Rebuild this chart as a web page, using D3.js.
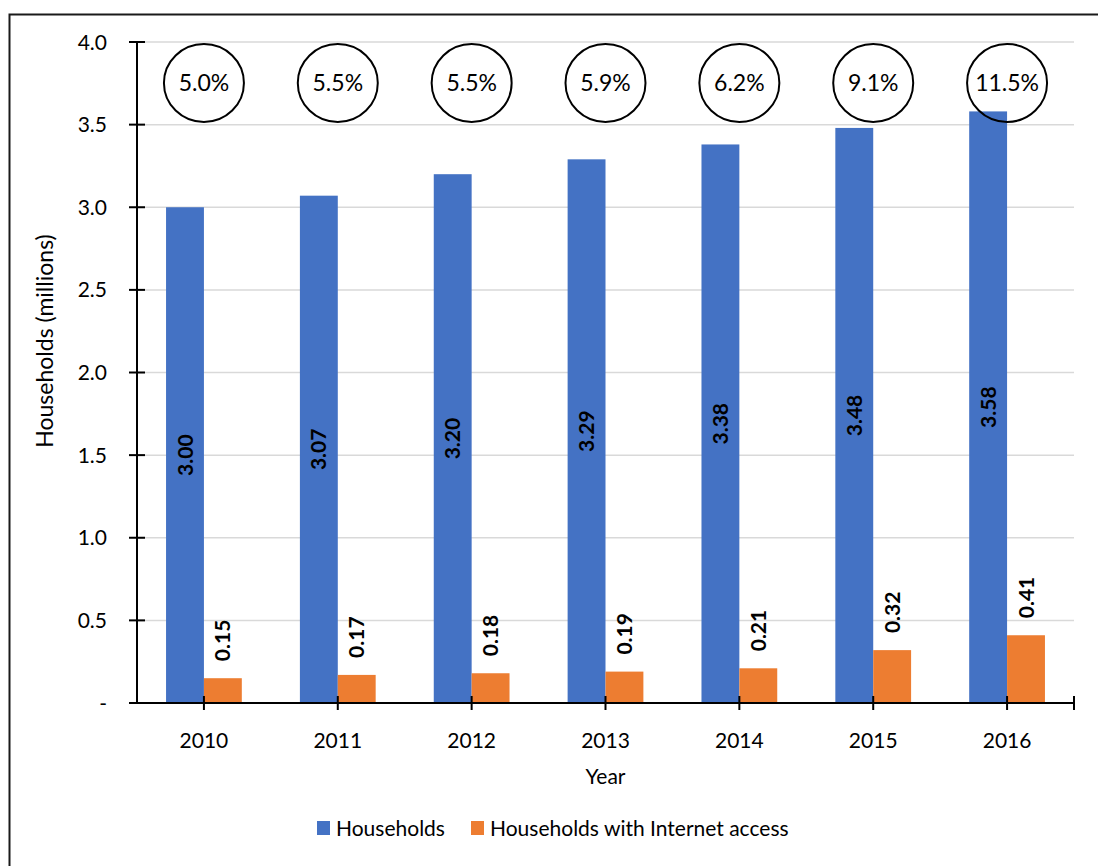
<!DOCTYPE html>
<html>
<head>
<meta charset="utf-8">
<script src="https://cdn.jsdelivr.net/npm/d3@7/dist/d3.min.js"></script>
<style>
  html, body { margin: 0; padding: 0; background: #fff; }
  svg { display: block; font-family: Lato, "Noto Sans", sans-serif; }
</style>
</head>
<body>
<svg id="chart" width="1098" height="866"></svg>
<script>
// Household counts (millions) by year
const years = ["2010", "2011", "2012", "2013", "2014", "2015", "2016"];
const households = [3.00, 3.07, 3.20, 3.29, 3.38, 3.48, 3.58];
const internet = [0.15, 0.17, 0.18, 0.19, 0.21, 0.32, 0.41];
const shareLabels = ["5.0%", "5.5%", "5.5%", "5.9%", "6.2%", "9.1%", "11.5%"];
const yTicks = [0, 0.5, 1.0, 1.5, 2.0, 2.5, 3.0, 3.5, 4.0];
const seriesNames = ["Households", "Households with Internet access"];
const seriesColors = ["#4472c4", "#ed7d31"];

const svg = d3.select("#chart");

// outer frame
svg.append("rect")
  .attr("x", 9.5).attr("y", 14.5)
  .attr("width", 1200).attr("height", 1000)
  .attr("fill", "none").attr("stroke", "#1a1a1a").attr("stroke-width", 2);

const plot = { left: 137, right: 1074, top: 42, bottom: 703 };

const x = d3.scaleBand().domain(years).range([plot.left, plot.right])
  .paddingInner(0.434).paddingOuter(0.217);
const xSub = d3.scaleBand().domain([0, 1]).range([0, x.bandwidth()]);
const y = d3.scaleLinear().domain([0, 4]).range([plot.bottom, plot.top]);

// horizontal gridlines
svg.append("g").selectAll("line")
  .data(yTicks.filter(d => d > 0))
  .join("line")
  .attr("x1", plot.left).attr("x2", plot.right)
  .attr("y1", d => y(d)).attr("y2", d => y(d))
  .attr("stroke", "#d9d9d9").attr("stroke-width", 1.5);

// bars
const rows = years.map((yr, i) => ({ yr, vals: [households[i], internet[i]] }));
const groups = svg.append("g").selectAll("g")
  .data(rows).join("g")
  .attr("transform", d => `translate(${x(d.yr)},0)`);

groups.selectAll("rect")
  .data(d => d.vals.map((v, k) => ({ v, k })))
  .join("rect")
  .attr("x", d => xSub(d.k))
  .attr("width", xSub.bandwidth())
  .attr("y", d => y(d.v))
  .attr("height", d => y(0) - y(d.v))
  .attr("fill", d => seriesColors[d.k]);

// value labels: inside the blue bar (centred), above the orange bar
groups.selectAll("text.val")
  .data(d => d.vals.map((v, k) => ({ v, k })))
  .join("text")
  .attr("class", "val")
  .attr("transform", d => {
    const cx = xSub(d.k) + xSub.bandwidth() / 2;
    const cy = d.k === 0 ? (y(d.v) + y(0)) / 2 : y(d.v) - 17;
    return `translate(${cx},${cy}) rotate(-90)`;
  })
  .attr("text-anchor", d => d.k === 0 ? "middle" : "start")
  .attr("dy", "0.36em")
  .attr("font-size", 21).attr("font-weight", 700)
  .attr("fill", "#000")
  .text(d => d.v.toFixed(2));

// y axis
const yAxis = svg.append("g");
yAxis.append("line")
  .attr("x1", plot.left).attr("x2", plot.left).attr("y1", plot.top).attr("y2", plot.bottom)
  .attr("stroke", "#000").attr("stroke-width", 2);
yAxis.selectAll("line.tick").data(yTicks).join("line")
  .attr("class", "tick")
  .attr("x1", plot.left - 8).attr("x2", plot.left + 8)
  .attr("y1", d => y(d)).attr("y2", d => y(d))
  .attr("stroke", "#000").attr("stroke-width", 2);
yAxis.selectAll("text").data(yTicks).join("text")
  .attr("x", 107).attr("y", d => y(d)).attr("dy", "0.36em")
  .attr("text-anchor", "end").attr("font-size", 21).attr("fill", "#000")
  .text(d => d === 0 ? "-" : d3.format(".1f")(d));

// x axis
const xAxis = svg.append("g");
xAxis.append("line")
  .attr("x1", plot.left - 8).attr("x2", plot.right).attr("y1", plot.bottom).attr("y2", plot.bottom)
  .attr("stroke", "#000").attr("stroke-width", 2);
const xTickPos = years.map(d => x(d) + x.bandwidth() / 2).concat([plot.right]);
xAxis.selectAll("line.tick").data(xTickPos).join("line")
  .attr("class", "tick")
  .attr("x1", d => d).attr("x2", d => d)
  .attr("y1", plot.bottom - 7).attr("y2", plot.bottom + 7)
  .attr("stroke", "#000").attr("stroke-width", 2);
xAxis.selectAll("text").data(years).join("text")
  .attr("x", d => x(d) + x.bandwidth() / 2).attr("y", 740).attr("dy", "0.36em")
  .attr("text-anchor", "middle").attr("font-size", 21).attr("fill", "#000")
  .text(d => d);

// axis titles
svg.append("text")
  .attr("transform", "translate(45,341) rotate(-90)")
  .attr("text-anchor", "middle").attr("dy", "0.36em")
  .attr("font-size", 23).attr("fill", "#000")
  .text("Households (millions)");
svg.append("text")
  .attr("x", (plot.left + plot.right) / 2).attr("y", 776).attr("dy", "0.36em")
  .attr("text-anchor", "middle").attr("font-size", 21).attr("fill", "#000")
  .text("Year");

// internet share callouts
const share = svg.append("g").selectAll("g")
  .data(years.map((yr, i) => ({ yr, label: shareLabels[i] })))
  .join("g")
  .attr("transform", d => `translate(${x(d.yr) + x.bandwidth() / 2},83)`);
share.append("ellipse")
  .attr("rx", 40).attr("ry", 39)
  .attr("fill", "none").attr("stroke", "#000").attr("stroke-width", 2);
share.append("text")
  .attr("text-anchor", "middle").attr("dy", "0.36em")
  .attr("font-size", 23).attr("fill", "#000")
  .text(d => d.label);

// legend
const legendItems = [
  { name: seriesNames[0], color: seriesColors[0], x: 317 },
  { name: seriesNames[1], color: seriesColors[1], x: 471 }
];
const lg = svg.append("g").selectAll("g").data(legendItems).join("g")
  .attr("transform", d => `translate(${d.x},828)`);
lg.append("rect").attr("x", 0).attr("y", -7).attr("width", 13).attr("height", 14)
  .attr("fill", d => d.color);
lg.append("text").attr("x", 19).attr("dy", "0.36em")
  .attr("font-size", 21).attr("fill", "#000")
  .text(d => d.name);
</script>
</body>
</html>
